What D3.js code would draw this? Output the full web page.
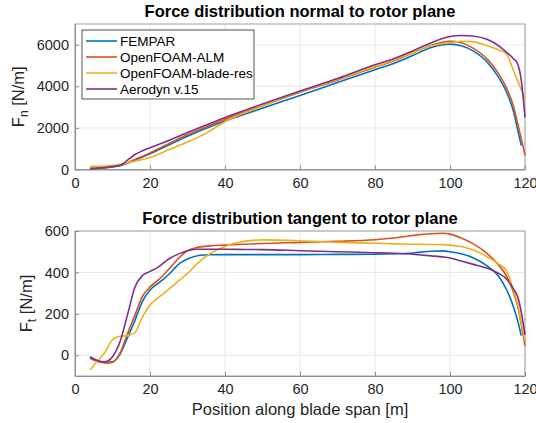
<!DOCTYPE html>
<html>
<head>
<meta charset="utf-8">
<script src="https://cdn.jsdelivr.net/npm/d3@7"></script>
<style>
  body { margin: 0; background: #fff; }
  svg text { font-family: "Liberation Sans", Arial, Helvetica, sans-serif; }
</style>
</head>
<body>
<div id="cnt"></div>
<script>
const seriesNames = ['FEMPAR', 'OpenFOAM-ALM', 'OpenFOAM-blade-res', 'Aerodyn v.15']
const colors = ['#0072BD', '#D95319', '#EDB120', '#7E2F8E']

// normal force, N/m
const spanN = [4, 8, 12, 14, 16, 18, 20, 25, 30, 35, 40, 50, 60, 70, 80, 85, 90, 95, 100, 103, 106, 110, 113, 115, 117, 118, 119, 120]
const fnFempar = [50, 80, 180, 300, 450, 600, 760, 1180, 1600, 1980, 2330, 2950, 3560, 4180, 4800, 5100, 5480, 5870, 6030, 5950, 5720, 5150, 4420, 3750, 2750, 1950, 1150, null]
const fnAlm = [40, 90, 200, 330, 480, 640, 800, 1240, 1680, 2050, 2420, 3060, 3720, 4300, 4920, 5220, 5600, 5980, 6170, 6100, 5850, 5300, 4600, 3950, 3000, 2250, 1500, 680]
const fnBladeRes = [150, 170, 250, 330, 400, 480, 580, 950, 1320, 1750, 2300, 3050, 3750, 4330, 4950, 5250, 5620, 5950, 6100, 6170, 6150, 5950, 5750, 5570, 4730, 4290, 3850, 3400]
const fnAerodyn = [40, 100, 200, 450, 720, 900, 1050, 1400, 1780, 2140, 2500, 3150, 3780, 4380, 5040, 5330, 5700, 6100, 6400, 6450, 6420, 6250, 5950, 5650, 5320, 5100, 4300, 2500]

// tangential force, N/m
const spanT = [4, 6, 8, 10, 12, 14, 16, 18, 20, 22, 25, 28, 30, 33, 36, 40, 45, 50, 60, 70, 80, 85, 90, 95, 98, 100, 103, 106, 110, 113, 115, 117, 118, 119, 120]
const ftFempar = [-12, -28, -35, -32, 5, 85, 170, 260, 315, 345, 390, 445, 465, 482, 485, 486, 486, 486, 486, 487, 488, 490, 494, 502, 504, 500, 490, 472, 430, 380, 320, 230, 170, 95, null]
const ftAlm = [-15, -30, -37, -33, 10, 105, 195, 285, 330, 360, 415, 475, 505, 522, 528, 532, 536, 540, 545, 550, 558, 566, 578, 587, 589, 585, 566, 540, 490, 435, 385, 300, 240, 150, 46]
const ftBladeRes = [-71, -28, 15, 75, 92, 95, 110, 185, 243, 275, 318, 365, 395, 450, 490, 525, 550, 557, 553, 545, 541, 538, 536, 535, 534, 532, 525, 510, 475, 440, 410, 310, 250, 160, 70]
const ftAerodyn = [-7, -25, -31, -7, 65, 195, 330, 385, 405, 423, 465, 492, 505, 512, 512, 512, 511, 510, 505, 500, 495, 492, 488, 480, 475, 470, 455, 440, 420, 395, 370, 318, 285, 210, 98]

const xTicks = [0, 20, 40, 60, 80, 100, 120]
const fnTicks = [0, 2000, 4000, 6000]
const ftTicks = [0, 200, 400, 600]

const W = 536, H = 423
const left = 75, right = 525

const svg = d3.select('#cnt')
    .append('svg')
    .attr('width', W)
    .attr('height', H)

const x = d3.scaleLinear().domain([0, 120]).range([left, right])

function drawPanel(cfg) {
    const y = d3.scaleLinear().domain(cfg.domain).range([cfg.bottom, cfg.top])
    const g = svg.append('g')

    // grid
    g.selectAll('.gx').data(xTicks).join('line')
        .attr('x1', d => x(d)).attr('x2', d => x(d))
        .attr('y1', cfg.top).attr('y2', cfg.bottom)
        .attr('stroke', '#e3e3e3').attr('stroke-width', 0.8)
    g.selectAll('.gy').data(cfg.ticks).join('line')
        .attr('x1', left).attr('x2', right)
        .attr('y1', d => y(d)).attr('y2', d => y(d))
        .attr('stroke', '#e3e3e3').attr('stroke-width', 0.8)

    // box
    g.append('rect')
        .attr('x', left).attr('y', cfg.top)
        .attr('width', right - left).attr('height', cfg.bottom - cfg.top)
        .attr('fill', 'none').attr('stroke', '#8c8c8c').attr('stroke-width', 0.8)

    const xAxis = d3.axisBottom(x).tickValues(xTicks).tickFormat(d3.format('d'))
        .tickSizeInner(-4).tickSizeOuter(0).tickPadding(8)
    const yAxis = d3.axisLeft(y).tickValues(cfg.ticks).tickFormat(d3.format('d'))
        .tickSizeInner(-4).tickSizeOuter(0).tickPadding(6)

    g.append('g').attr('transform', `translate(0,${cfg.bottom})`).call(xAxis)
    g.append('g').attr('transform', `translate(${left},0)`).call(yAxis)
    g.selectAll('.domain').attr('stroke', '#8c8c8c').attr('stroke-width', 1)
    g.selectAll('.tick line').attr('stroke', '#8c8c8c')
    g.selectAll('.tick text').attr('fill', '#262626').style('font-size', '14.5px')

    const line = d3.line()
        .defined(d => d[1] !== null)
        .x(d => x(d[0]))
        .y(d => y(d[1]))
        .curve(d3.curveMonotoneX)

    cfg.series.forEach((vals, i) => {
        g.append('path')
            .datum(cfg.span.map((s, j) => [s, vals[j]]))
            .attr('d', line)
            .attr('fill', 'none')
            .attr('stroke', colors[i])
            .attr('stroke-width', 1.6)
    })

    g.append('text')
        .attr('x', 300).attr('y', cfg.top - 7)
        .attr('text-anchor', 'middle')
        .style('font-size', '16.5px').style('font-weight', 'bold')
        .attr('fill', '#000')
        .text(cfg.title)

    const lab = g.append('text')
        .attr('transform', `translate(${cfg.labelX},${(cfg.top + cfg.bottom) / 2}) rotate(-90)`)
        .attr('text-anchor', 'middle')
        .attr('fill', '#262626')
        .style('font-size', '16.5px')
    lab.append('tspan').text('F')
    lab.append('tspan').attr('dy', 4).style('font-size', '12px').text(cfg.sub)
    lab.append('tspan').attr('dy', -4).text(' [N/m]')
}

drawPanel({
    title: 'Force distribution normal to rotor plane',
    domain: [0, 7000], top: 24, bottom: 169.5,
    ticks: fnTicks, span: spanN,
    series: [fnFempar, fnAlm, fnBladeRes, fnAerodyn],
    labelX: 24, sub: 'n'
})

drawPanel({
    title: 'Force distribution tangent to rotor plane',
    domain: [-100, 600], top: 231, bottom: 376,
    ticks: ftTicks, span: spanT,
    series: [ftFempar, ftAlm, ftBladeRes, ftAerodyn],
    labelX: 32, sub: 't'
})

svg.append('text')
    .attr('x', 300).attr('y', 415)
    .attr('text-anchor', 'middle')
    .attr('fill', '#262626')
    .style('font-size', '16.5px')
    .text('Position along blade span [m]')

// legend
const legend = svg.append('g')
legend.append('rect')
    .attr('x', 82).attr('y', 30).attr('width', 172).attr('height', 69)
    .attr('fill', '#fff').attr('stroke', '#262626').attr('stroke-width', 0.8)
seriesNames.forEach((name, i) => {
    const ly = 41 + i * 16
    legend.append('line')
        .attr('x1', 86).attr('x2', 117).attr('y1', ly).attr('y2', ly)
        .attr('stroke', colors[i]).attr('stroke-width', 1.6)
    legend.append('text')
        .attr('x', 120).attr('y', ly + 4.5)
        .attr('fill', '#000')
        .style('font-size', '13.5px')
        .text(name)
})
</script>
</body>
</html>
